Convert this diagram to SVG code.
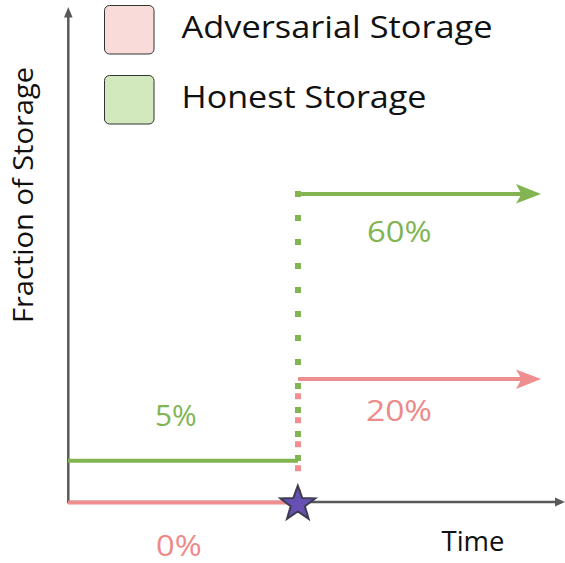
<svg xmlns="http://www.w3.org/2000/svg" width="565" height="563" viewBox="0 0 565 563">
  <style>
    text { font-family: "Open Sans", "Liberation Sans", sans-serif; }
    .legend { font-size: 31px; fill: #111111; }
    .axis-label { font-size: 27px; fill: #111111; }
    .pct { font-size: 29px; }
    .green { fill: #82b552; }
    .red { fill: #ec8a8a; }
    .axis { stroke: #595959; stroke-width: 2.5; fill: none; }
    .g-line { stroke: #82b552; stroke-width: 4; fill: none; }
    .r-line { stroke: #ee8e8e; stroke-width: 4; fill: none; }
    .g-dots { stroke: #82b552; stroke-width: 6; stroke-dasharray: 6 18; fill: none; }
    .r-dots { stroke: #ee8e8e; stroke-width: 6; stroke-dasharray: 6 18; fill: none; }
    .swatch { stroke: #333333; stroke-width: 1; }
  </style>

  <!-- axes -->
  <g id="axes">
    <line class="axis" x1="68.3" y1="503" x2="68.3" y2="16"/>
    <polygon points="64,17.5 68.3,7 72.6,17.5" fill="#595959"/>
    <line class="axis" x1="67" y1="502" x2="556" y2="502"/>
    <polygon points="555,497.5 565,502 555,506.5" fill="#595959"/>
  </g>

  <!-- legend -->
  <g id="legend-adversarial">
    <rect class="swatch" x="104.5" y="5.5" width="49.5" height="48.5" rx="5" fill="#f9dbd9"/>
    <text class="legend" x="181.5" y="37.7" textLength="311" lengthAdjust="spacingAndGlyphs">Adversarial Storage</text>
  </g>
  <g id="legend-honest">
    <rect class="swatch" x="104.5" y="75.5" width="49.5" height="48.5" rx="5" fill="#d2e8bd"/>
    <text class="legend" x="181.5" y="108.3" textLength="245" lengthAdjust="spacingAndGlyphs">Honest Storage</text>
  </g>

  <!-- axis labels -->
  <g id="label-y">
    <text class="axis-label" transform="translate(32.5,195) rotate(-90)" text-anchor="middle" textLength="256" lengthAdjust="spacingAndGlyphs">Fraction of Storage</text>
  </g>
  <g id="label-x">
    <text class="axis-label" x="441.5" y="551" textLength="63" lengthAdjust="spacingAndGlyphs">Time</text>
  </g>

  <!-- storage levels and transitions -->
  <g id="connectors">
    <!-- honest: 5% before, 60% after -->
    <line class="g-line" x1="68" y1="460.8" x2="298" y2="460.8"/>
    <line class="g-dots" x1="298" y1="191" x2="298" y2="461"/>
    <line class="g-line" x1="295" y1="194" x2="523" y2="194"/>
    <polygon points="516,184 541,194 516,203.5 521.5,194" fill="#82b552"/>
    <!-- adversarial: 0% before, 20% after -->
    <line class="r-line" x1="68" y1="502.5" x2="290" y2="502.5"/>
    <line class="r-dots" x1="298" y1="393.3" x2="298" y2="503"/>
    <line class="r-line" x1="298" y1="379" x2="523" y2="379"/>
    <polygon points="516,369.5 541,379 516,389 521.5,379" fill="#ee8e8e"/>
  </g>

  <!-- event marker -->
  <g id="event-star">
    <polygon points="297.8,485.6 302.2,497.9 315.3,498.3 304.9,506.3 308.6,518.9 297.8,511.5 287,518.9 290.7,506.3 280.3,498.3 293.4,497.9" fill="#6650b4" stroke="#3d3d50" stroke-width="2" stroke-linejoin="miter"/>
  </g>

  <!-- percentages -->
  <g id="pct-labels">
    <text class="pct green" x="367" y="241.7" textLength="64.5" lengthAdjust="spacingAndGlyphs">60%</text>
    <text class="pct red" x="366" y="421" textLength="66" lengthAdjust="spacingAndGlyphs">20%</text>
    <text class="pct green" x="155" y="426" textLength="41.7" lengthAdjust="spacingAndGlyphs">5%</text>
    <text class="pct red" x="156" y="555.5" textLength="45.7" lengthAdjust="spacingAndGlyphs">0%</text>
  </g>
</svg>
